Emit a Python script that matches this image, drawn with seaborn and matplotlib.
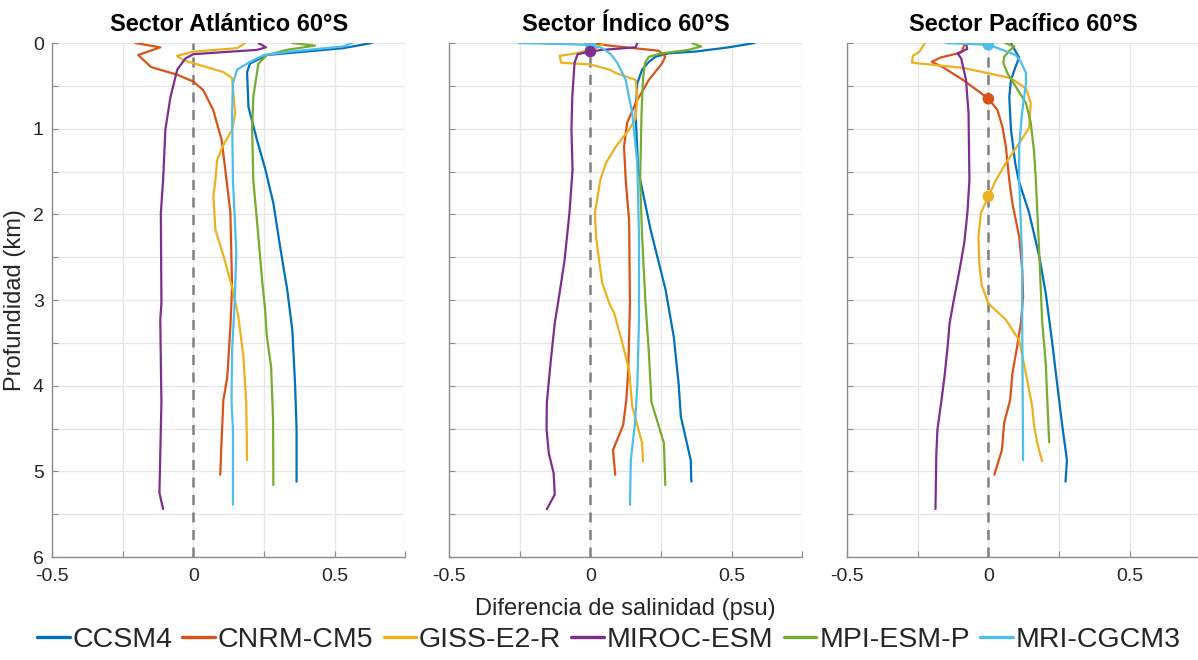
import numpy as np
import pandas as pd
import matplotlib
matplotlib.use("Agg")
import matplotlib.pyplot as plt
from matplotlib.ticker import MultipleLocator
import seaborn as sns

# Models and their line colours
models = ["CCSM4", "CNRM-CM5", "GISS-E2-R", "MIROC-ESM", "MPI-ESM-P", "MRI-CGCM3"]
colors = ["#0072BD", "#D95319", "#EDB120", "#7E2F8E", "#77AC30", "#4DBEEE"]

sectors = ["Sector Atlántico 60°S", "Sector Índico 60°S", "Sector Pacífico 60°S"]

# Salinity difference profiles (psu) against depth (km), one dict per sector
atl_depth = {
    "CCSM4": [0, 0.06, 0.14, 0.24, 0.34, 0.75, 1.13, 1.48, 1.87, 2.38, 2.88, 3.35, 4.0, 4.5, 5.12],
    "CNRM-CM5": [0, 0.05, 0.14, 0.28, 0.37, 0.45, 0.55, 0.78, 1.13, 1.48, 1.98, 2.85, 3.31, 3.9, 4.17, 4.71, 5.04],
    "GISS-E2-R": [0, 0.06, 0.10, 0.15, 0.20, 0.26, 0.34, 0.41, 0.82, 1.01, 1.21, 1.37, 1.6, 1.79, 2.18, 2.49, 2.85, 3.19, 3.66, 4.2, 4.87],
    "MIROC-ESM": [0, 0.05, 0.08, 0.13, 0.18, 0.31, 0.63, 1.01, 1.6, 1.98, 3.04, 3.23, 4.2, 5.25, 5.44],
    "MPI-ESM-P": [0, 0.03, 0.08, 0.14, 0.24, 0.63, 1.01, 1.6, 2.26, 2.8, 3.12, 3.43, 3.78, 4.4, 5.16],
    "MRI-CGCM3": [0, 0.04, 0.10, 0.14, 0.22, 0.31, 0.47, 0.82, 1.6, 2.45, 3.04, 3.58, 4.2, 4.51, 5.39],
}
atl_sal = {
    "CCSM4": [0.63, 0.53, 0.26, 0.20, 0.19, 0.195, 0.225, 0.255, 0.283, 0.307, 0.332, 0.35, 0.36, 0.365, 0.365],
    "CNRM-CM5": [-0.205, -0.117, -0.195, -0.15, -0.057, 0.0, 0.035, 0.07, 0.10, 0.113, 0.131, 0.137, 0.131, 0.12, 0.106, 0.099, 0.095],
    "GISS-E2-R": [0.184, 0.155, 0.0, -0.058, -0.035, 0.025, 0.107, 0.137, 0.148, 0.137, 0.103, 0.084, 0.078, 0.071, 0.078, 0.107, 0.137, 0.159, 0.177, 0.187, 0.19],
    "MIROC-ESM": [0.23, 0.257, 0.225, 0.0, -0.028, -0.057, -0.081, -0.099, -0.107, -0.115, -0.113, -0.117, -0.113, -0.12, -0.107],
    "MPI-ESM-P": [0.35, 0.43, 0.33, 0.26, 0.23, 0.212, 0.208, 0.212, 0.23, 0.244, 0.254, 0.26, 0.275, 0.282, 0.283],
    "MRI-CGCM3": [0.56, 0.53, 0.343, 0.25, 0.20, 0.155, 0.14, 0.137, 0.14, 0.152, 0.146, 0.137, 0.135, 0.14, 0.14],
}

ind_depth = {
    "CCSM4": [0, 0.05, 0.10, 0.12, 0.16, 0.22, 0.31, 0.47, 0.82, 1.48, 2.18, 2.88, 3.43, 3.97, 4.36, 4.87, 5.12],
    "CNRM-CM5": [0, 0.03, 0.09, 0.16, 0.24, 0.43, 0.70, 0.93, 1.21, 1.6, 2.07, 3.04, 3.82, 4.17, 4.46, 4.75, 5.04],
    "GISS-E2-R": [0, 0.06, 0.12, 0.15, 0.23, 0.25, 0.31, 0.35, 0.43, 0.63, 0.88, 1.01, 1.21, 1.4, 1.6, 1.98, 2.26, 2.57, 2.8, 3.04, 3.15, 3.5, 3.82, 4.24, 4.67, 4.88],
    "MIROC-ESM": [0, 0.05, 0.08, 0.10, 0.13, 0.23, 0.63, 1.01, 1.48, 1.98, 2.53, 2.92, 3.27, 3.74, 4.2, 4.51, 4.79, 5.02, 5.27, 5.44],
    "MPI-ESM-P": [0, 0.04, 0.08, 0.12, 0.16, 0.23, 0.43, 0.82, 1.6, 2.26, 3.04, 3.62, 4.19, 4.67, 5.16],
    "MRI-CGCM3": [0, 0.02, 0.06, 0.13, 0.23, 0.43, 0.82, 1.4, 2.26, 3.23, 4.0, 4.43, 4.87, 5.39],
}
ind_sal = {
    "CCSM4": [0.58, 0.49, 0.37, 0.277, 0.23, 0.207, 0.183, 0.166, 0.16, 0.169, 0.213, 0.266, 0.295, 0.312, 0.32, 0.355, 0.357],
    "CNRM-CM5": [0.0, 0.067, 0.242, 0.265, 0.253, 0.207, 0.16, 0.13, 0.119, 0.125, 0.137, 0.14, 0.134, 0.127, 0.116, 0.08, 0.088],
    "GISS-E2-R": [0.05, 0.02, -0.05, -0.109, -0.103, 0.0, 0.067, 0.09, 0.16, 0.166, 0.16, 0.137, 0.09, 0.055, 0.035, 0.016, 0.02, 0.032, 0.042, 0.067, 0.084, 0.113, 0.137, 0.148, 0.183, 0.186],
    "MIROC-ESM": [0.166, 0.16, 0.042, 0.0, -0.045, -0.056, -0.064, -0.067, -0.063, -0.074, -0.091, -0.109, -0.126, -0.141, -0.154, -0.155, -0.147, -0.13, -0.126, -0.154],
    "MPI-ESM-P": [0.358, 0.392, 0.347, 0.253, 0.207, 0.193, 0.186, 0.181, 0.176, 0.183, 0.195, 0.207, 0.216, 0.26, 0.265],
    "MRI-CGCM3": [-0.253, 0.0, 0.042, 0.072, 0.095, 0.125, 0.148, 0.166, 0.172, 0.172, 0.166, 0.158, 0.143, 0.14],
}

pac_depth = {
    "CCSM4": [0, 0.10, 0.17, 0.27, 0.43, 0.63, 1.01, 1.4, 1.6, 1.98, 2.49, 2.92, 3.5, 3.97, 4.43, 4.87, 5.12],
    "CNRM-CM5": [0.02, 0.11, 0.17, 0.22, 0.28, 0.43, 0.57, 0.65, 0.78, 0.98, 1.21, 1.6, 1.87, 2.26, 2.65, 2.96, 3.27, 3.54, 3.86, 4.17, 4.43, 4.75, 5.04],
    "GISS-E2-R": [0, 0.10, 0.15, 0.23, 0.29, 0.41, 0.53, 0.70, 0.99, 1.17, 1.4, 1.6, 1.79, 1.98, 2.26, 2.57, 2.82, 3.04, 3.23, 3.47, 3.86, 4.24, 4.47, 4.67, 4.88],
    "MIROC-ESM": [0, 0.07, 0.12, 0.18, 0.27, 0.43, 0.82, 1.6, 1.98, 2.33, 2.65, 2.96, 3.27, 3.54, 3.89, 4.2, 4.51, 4.79, 5.44],
    "MPI-ESM-P": [0, 0.04, 0.09, 0.16, 0.23, 0.35, 0.51, 0.70, 0.93, 1.28, 1.6, 2.45, 3.23, 3.74, 4.66],
    "MRI-CGCM3": [0, 0.02, 0.08, 0.14, 0.22, 0.35, 0.47, 0.82, 1.21, 1.6, 2.45, 3.43, 4.87],
}
pac_sal = {
    "CCSM4": [0.08, 0.097, 0.109, 0.097, 0.08, 0.074, 0.08, 0.095, 0.107, 0.144, 0.18, 0.203, 0.226, 0.243, 0.26, 0.278, 0.273],
    "CNRM-CM5": [-0.085, -0.095, -0.17, -0.2, -0.162, -0.09, -0.032, 0.0, 0.032, 0.05, 0.062, 0.074, 0.085, 0.109, 0.12, 0.123, 0.115, 0.102, 0.085, 0.077, 0.056, 0.048, 0.021],
    "GISS-E2-R": [-0.225, -0.243, -0.267, -0.27, -0.09, 0.08, 0.133, 0.15, 0.144, 0.109, 0.062, 0.027, 0.0, -0.026, -0.035, -0.032, -0.024, 0.0, 0.062, 0.109, 0.133, 0.155, 0.162, 0.173, 0.19],
    "MIROC-ESM": [-0.079, -0.075, -0.109, -0.096, -0.09, -0.079, -0.07, -0.067, -0.074, -0.085, -0.102, -0.12, -0.137, -0.144, -0.155, -0.167, -0.18, -0.184, -0.187],
    "MPI-ESM-P": [0.059, 0.092, 0.074, 0.056, 0.053, 0.067, 0.097, 0.133, 0.15, 0.162, 0.168, 0.18, 0.19, 0.203, 0.215],
    "MRI-CGCM3": [-0.149, 0.0, 0.05, 0.097, 0.115, 0.133, 0.133, 0.119, 0.109, 0.109, 0.119, 0.12, 0.123],
}

# Zero-crossing points highlighted with dots
dot_sector = [1, 1, 1, 2, 2, 2]
dot_model = ["CNRM-CM5", "MRI-CGCM3", "MIROC-ESM", "MRI-CGCM3", "CNRM-CM5", "GISS-E2-R"]
dot_depth = [0.0, 0.01, 0.10, 0.02, 0.65, 1.79]
dot_sal = [0.0, 0.0, 0.0, 0.0, 0.0, 0.0]

x_ticks = [-0.5, 0, 0.5]
x_labels = ["-0.5", "0", "0.5"]
y_ticks = [0, 1, 2, 3, 4, 5, 6]

# Long-form table of all profiles
rows = []
for si, (dep, sal) in enumerate([(atl_depth, atl_sal), (ind_depth, ind_sal), (pac_depth, pac_sal)]):
    for m in models:
        for order, (z, s) in enumerate(zip(dep[m], sal[m])):
            rows.append({"sector": si, "model": m, "order": order, "depth": z, "sal": s})
profiles = pd.DataFrame(rows)
dots = pd.DataFrame({"sector": dot_sector, "model": dot_model, "depth": dot_depth, "sal": dot_sal})

sns.set_theme(style="white")
plt.rcParams["font.family"] = ["Liberation Sans", "DejaVu Sans"]

palette = dict(zip(models, colors))
fig = plt.figure(figsize=(11.98, 6.60), dpi=100)

lefts = [0.0434, 0.3748, 0.7070]
width = 0.2950
bottom, height = 0.156, 0.7788
spine_col = "#8c8c8c"
text_col = "#262626"

axes = []
for si in range(3):
    ax = fig.add_axes([lefts[si], bottom, width, height])
    axes.append(ax)
    ax.set_xlim(-0.5, 0.75)
    ax.set_ylim(6, 0)
    ax.xaxis.set_minor_locator(MultipleLocator(0.25))
    ax.yaxis.set_minor_locator(MultipleLocator(0.5))
    ax.set_xticks(x_ticks)
    ax.set_xticklabels(x_labels)
    ax.set_yticks(y_ticks)
    ax.grid(True, which="both", color="#e6e6e6", linewidth=0.9)
    ax.set_axisbelow(True)
    ax.axvline(0, color="#808080", linestyle=(0, (4, 3)), linewidth=1.8, zorder=1.5)

    sub = profiles[profiles["sector"] == si]
    sns.lineplot(data=sub, x="sal", y="depth", hue="model", hue_order=models,
                 palette=palette, estimator=None, sort=False, orient="y",
                 units="model", linewidth=1.6, ax=ax, legend=(si == 0), zorder=3)
    dsub = dots[dots["sector"] == si]
    if len(dsub):
        sns.scatterplot(data=dsub, x="sal", y="depth", hue="model", palette=palette,
                        s=70, edgecolor="none", ax=ax, legend=False, zorder=4)

    for side in ["top", "right"]:
        ax.spines[side].set_visible(False)
    for side in ["left", "bottom"]:
        ax.spines[side].set_color(spine_col)
        ax.spines[side].set_linewidth(1.0)
    ax.tick_params(which="both", direction="in", color=spine_col, labelcolor=text_col,
                   labelsize=14, length=4, width=0.8, left=True, bottom=True)
    ax.tick_params(axis="x", pad=8)
    ax.tick_params(axis="y", pad=6)
    if si > 0:
        ax.tick_params(axis="y", labelleft=False)
    ax.set_xlabel("")
    ax.set_ylabel("")
    ax.set_title(sectors[si], fontsize=17, fontweight="bold", color="black", pad=9)

axes[0].set_ylabel("Profundidad (km)", fontsize=17, color=text_col, labelpad=5)
axes[1].set_xlabel("Diferencia de salinidad (psu)", fontsize=17, color=text_col, labelpad=9)

handles, labels = axes[0].get_legend_handles_labels()
axes[0].get_legend().remove()
for h in handles:
    h.set_linewidth(2.4)
fig.legend(handles, labels, loc="center", bbox_to_anchor=(0.508, 0.03), ncol=6,
           frameon=False, fontsize=20.5, handlelength=1.15, handletextpad=0.1,
           columnspacing=0.35, borderaxespad=0)

fig.savefig("out.png", dpi=100)
